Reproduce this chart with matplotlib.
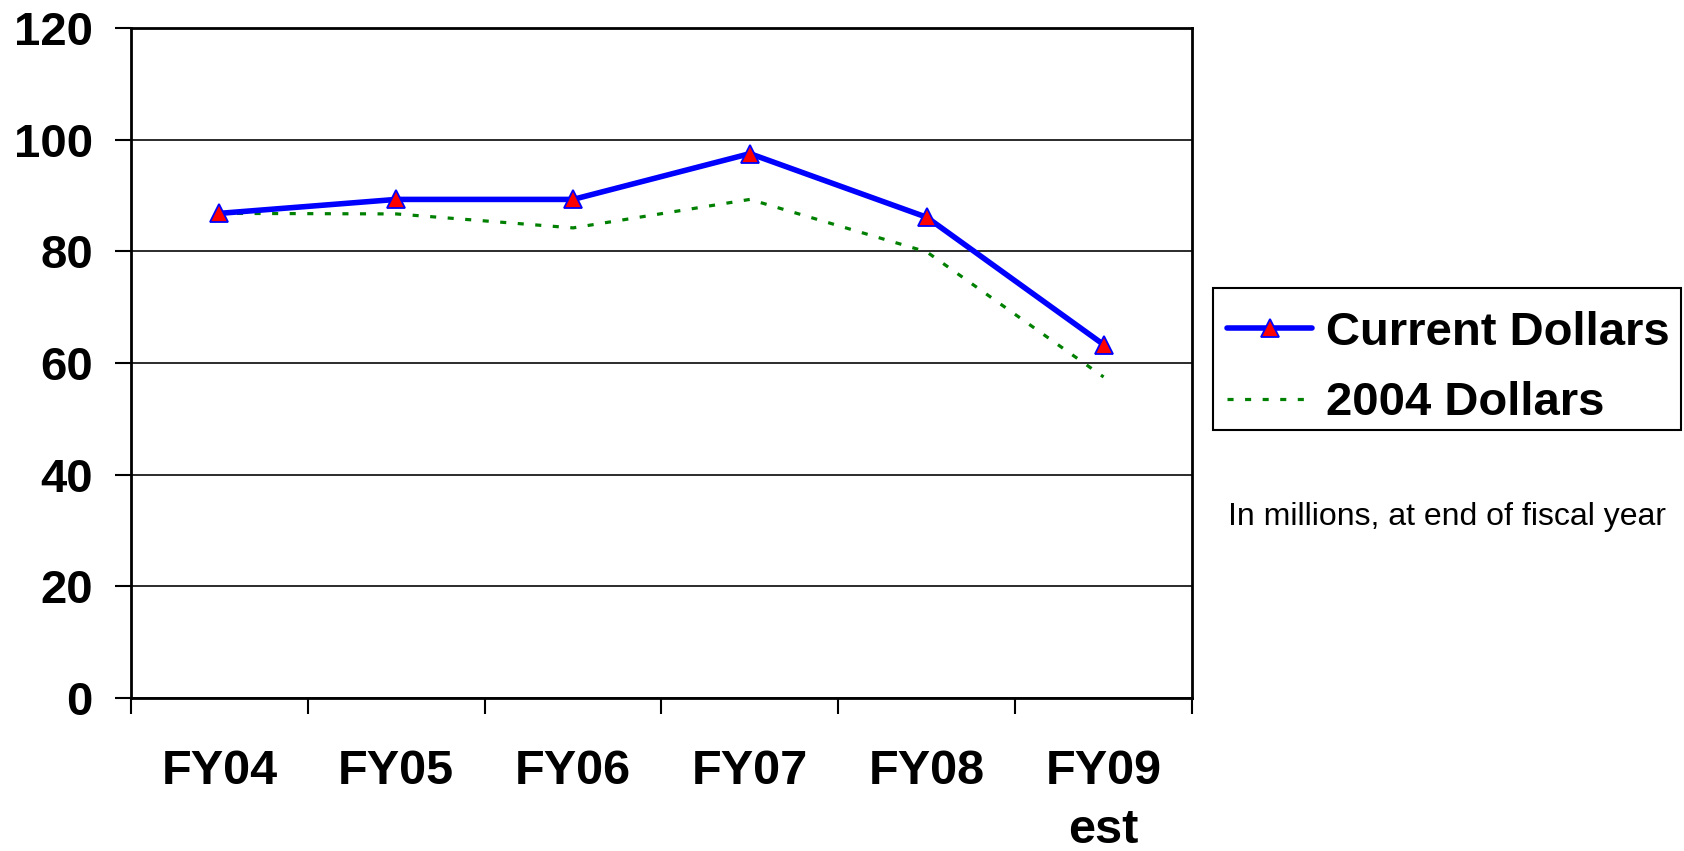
import matplotlib
matplotlib.use("Agg")
import matplotlib.pyplot as plt
from matplotlib.lines import Line2D
from matplotlib.patches import Rectangle

plt.rcParams['font.family'] = ['Liberation Sans', 'DejaVu Sans']

categories = ["FY04", "FY05", "FY06", "FY07", "FY08", "FY09\nest"]
current_dollars = [86.8, 89.3, 89.3, 97.5, 86.1, 63.3]
dollars_2004 = [86.8, 86.7, 84.2, 89.3, 79.9, 57.5]
yticks = [0, 20, 40, 60, 80, 100, 120]

W, H = 1684, 851
fig = plt.figure(figsize=(W / 100, H / 100), dpi=100)
ax = fig.add_axes([131/W, 1 - 698/H, (1192-131)/W, (698-28)/H])

x = list(range(len(categories)))
ax.plot(x, current_dollars, color='#0000ff', lw=4.0, marker='^', markersize=13,
        markerfacecolor='#ff0000', markeredgecolor='#0000ff', markeredgewidth=1.3,
        label='Current Dollars', zorder=3)
ax.plot(x, dollars_2004, color='#008000', lw=2.3, dashes=(1.9, 3.6),
        label='2004 Dollars', zorder=2)

ax.set_xlim(-0.5, len(categories) - 0.5)
ax.set_ylim(0, 120)
ax.set_yticks(yticks)
ax.set_yticklabels([str(v) for v in yticks], fontsize=34, fontweight='bold')
ax.yaxis.grid(True, color='#1a1a1a', lw=1.3)
ax.set_axisbelow(True)

ax.set_xticks([i - 0.5 for i in range(len(categories) + 1)])
ax.set_xticklabels([])
ax.set_xticks(x, minor=True)
ax.set_xticklabels(categories, minor=True, fontsize=35, fontweight='bold',
                   linespacing=1.40)
ax.tick_params(axis='x', which='minor', length=0, pad=37)
ax.tick_params(axis='x', which='major', length=11.5, width=1.5, direction='out')
ax.tick_params(axis='y', length=11.5, width=1.5, direction='out', pad=16)
for s in ax.spines.values():
    s.set_linewidth(2)
    s.set_color('black')

# legend box drawn separately
fig.patches.append(Rectangle((1213/W, 1 - 430/H), (1681-1213)/W, (430-288)/H,
                             transform=fig.transFigure, fill=False,
                             edgecolor='black', lw=1.5))
handles = [Line2D([], [], color='#0000ff', lw=4.0, marker='^', markersize=13,
                  markerfacecolor='#ff0000', markeredgecolor='#0000ff',
                  markeredgewidth=1.3, solid_capstyle='round'),
           Line2D([], [], color='#008000', lw=2.3, dashes=(1.9, 3.6))]
leg = fig.legend(handles, ['Current Dollars', '2004 Dollars'],
                 loc='center left', bbox_to_anchor=(1213/W, 1 - 368/H),
                 prop={'size': 34, 'weight': 'bold'}, frameon=False,
                 handlelength=1.8, handletextpad=0.3, borderpad=0.3,
                 labelspacing=0.57, borderaxespad=0)

fig.text(1228/W, 1 - 517/H, 'In millions, at end of fiscal year',
         fontsize=23, va='center', ha='left')

fig.savefig('out.png', dpi=100)
